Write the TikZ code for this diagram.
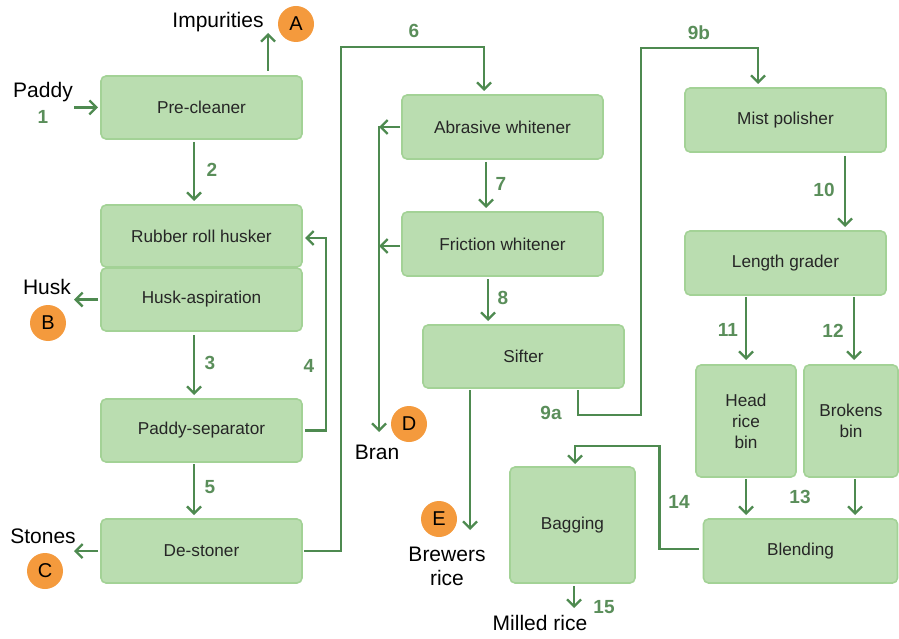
\documentclass[tikz,border=0pt]{standalone}
\usepackage{fontspec}
\setmainfont{Liberation Sans}
\usetikzlibrary{arrows.meta}
\definecolor{boxfill}{HTML}{BADDB0}
\definecolor{boxline}{HTML}{A3D296}
\definecolor{arrowc}{HTML}{4E8A50}
\definecolor{numc}{HTML}{5A8E5A}
\definecolor{orangec}{HTML}{F49A3D}
\begin{document}
\begin{tikzpicture}[x=1pt,y=-1pt,
 box/.style={draw=boxline, fill=boxfill, line width=1.6pt, rounded corners=5pt, inner sep=0pt, outer sep=0pt, font=\fontsize{17.2}{21}\selectfont, align=center, text=black!85},
 arr/.style={draw=arrowc, line width=2.5pt, -{Straight Barb[length=7pt,width=14pt,line width=2.3pt]}},
 ln/.style={draw=arrowc, line width=2.5pt},
 num/.style={text=numc, font=\fontsize{19}{22}\selectfont\bfseries, inner sep=0pt},
 lbl/.style={font=\fontsize{21}{24}\selectfont, text=black, inner sep=0pt, align=center},
 circ/.style={circle, fill=orangec, minimum size=36pt, inner sep=0pt, font=\fontsize{20}{24}\selectfont}]
\useasboundingbox (0,0) rectangle (899,639);
% boxes
\node[box, minimum width=201pt, minimum height=63pt] (pre) at (201.5,107.5) {Pre-cleaner};
\node[box, minimum width=201pt, minimum height=62pt] (rub) at (201.5,236) {Rubber roll husker};
\node[box, minimum width=201pt, minimum height=63pt] (husk) at (201.5,299.5) {Husk-aspiration};
\node[box, minimum width=201pt, minimum height=63pt] (psep) at (201.5,430.5) {Paddy-separator};
\node[box, minimum width=201pt, minimum height=64pt] (dest) at (201.5,551) {De-stoner};
\node[box, minimum width=201pt, minimum height=64pt] (abr) at (502.5,127) {Abrasive whitener};
\node[box, minimum width=201pt, minimum height=64pt] (fric) at (502.5,244) {Friction whitener};
\node[box, minimum width=201pt, minimum height=63pt] (sift) at (523.5,356.5) {Sifter};
\node[box, minimum width=125pt, minimum height=116pt] (bag) at (572.5,525) {Bagging};
\node[box, minimum width=201pt, minimum height=64pt] (mist) at (785.5,120) {Mist polisher};
\node[box, minimum width=201pt, minimum height=64pt] (len) at (785.5,263) {Length grader};
\node[box, minimum width=100pt, minimum height=112pt] (head) at (746,421) {Head\\rice\\bin};
\node[box, minimum width=94pt, minimum height=112pt] (brok) at (851,421) {Brokens\\bin};
\node[box, minimum width=194pt, minimum height=64pt] (blend) at (800.5,551) {Blending};
% labels
\node[lbl] (impl) at (218,22) {Impurities};
\node[circ] (cA) at (296,24) {A};
\node[lbl] (paddyl) at (43,92) {Paddy};
\node[lbl] (huskl) at (47,287) {Husk};
\node[circ] (cB) at (48,323) {B};
\node[lbl] (stonesl) at (43,536) {Stones};
\node[circ] (cC) at (45,571) {C};
\node[lbl] (branl) at (377,452) {Bran};
\node[circ] (cD) at (409,424) {D};
\node[circ] (cE) at (439,519) {E};
\node[lbl] (brewl) at (447,566) {Brewers\\rice};
\node[lbl] (milledl) at (540,623) {Milled rice};
% numbers
\node[num] (n1) at (43,117) {1};
\node[num] (n2) at (212,170) {2};
\node[num] (n3) at (210,363) {3};
\node[num] (n4) at (309,366) {4};
\node[num] (n5) at (210,487) {5};
\node[num] (n6) at (414,31) {6};
\node[num] (n7) at (501,184) {7};
\node[num] (n8) at (503,298) {8};
\node[num] (n9a) at (551,413) {9a};
\node[num] (n9b) at (699,33) {9b};
\node[num] (n10) at (824,190) {10};
\node[num] (n11) at (728,330) {11};
\node[num] (n12) at (833,331) {12};
\node[num] (n13) at (800,497) {13};
\node[num] (n14) at (679,502) {14};
\node[num] (n15) at (604,607) {15};
% free ends
\coordinate (paddyin) at (74,107.5);
\coordinate (impout) at (268,33);
\coordinate (huskout) at (74,299.5);
\coordinate (stoneout) at (74,551);
\coordinate (branend) at (379,432);
\coordinate (brewend) at (470,530);
\coordinate (milledend) at (574,608);
% connectors
\draw[arr] (paddyin) -- ([xshift=-3]pre.west);
\draw[arr] ([xshift=66.5,yshift=5]pre.north) -- (impout);
\draw[arr] ([xshift=-7.5,yshift=-3]pre.south) -- ([xshift=-7.5,yshift=4]rub.north);
\draw[arr] ([xshift=-3]husk.west) -- (huskout);
\draw[arr] ([xshift=-7.5,yshift=-4]husk.south) -- ([xshift=-7.5,yshift=4]psep.north);
\draw[arr] ([xshift=3]psep.east) -- ([xshift=24]psep.east) |- ([xshift=3,yshift=-2]rub.east);
\draw[arr] ([xshift=-7.5,yshift=-2]psep.south) -- ([xshift=-7.5,yshift=4]dest.north);
\draw[arr] ([xshift=-3]dest.west) -- (stoneout);
\draw[arr] ([xshift=2]dest.east) -- ([xshift=39]dest.east) |- ([xshift=-18.5,yshift=48]abr.north) -- ([xshift=-18.5,yshift=4]abr.north);
\draw[arr] ([xshift=-23,yshift=1.2]abr.west) -- (branend);
\draw[arr] ([xshift=-2]abr.west) -- ([xshift=-23]abr.west);
\draw[arr] ([xshift=-2,yshift=-2]fric.west) -- ([xshift=-23,yshift=-2]fric.west);
\draw[arr] ([xshift=-16.5,yshift=-3]abr.south) -- ([xshift=-16.5,yshift=4]fric.north);
\draw[arr] ([xshift=-14.5,yshift=-3]fric.south) -- ([xshift=-35.5,yshift=4]sift.north);
\draw[arr] ([xshift=-53.5,yshift=-2]sift.south) -- (brewend);
\draw[arr] ([xshift=54.5,yshift=-2]sift.south) -- ++(0,25) -- ++(63,0) |- ([xshift=-27.5,yshift=40]mist.north) -- ([xshift=-27.5,yshift=4]mist.north);
\draw[arr] ([xshift=59.5,yshift=-4]mist.south) -- ([xshift=59.5,yshift=4]len.north);
\draw[arr] ([xshift=-39.5,yshift=-2]len.south) -- ([xshift=0,yshift=5]head.north);
\draw[arr] ([xshift=68.5,yshift=-2]len.south) -- ([xshift=3,yshift=5]brok.north);
\draw[arr] ([yshift=-2]head.south) -- ([xshift=-54.5,yshift=4]blend.north);
\draw[arr] ([xshift=4,yshift=-2]brok.south) -- ([xshift=54.5,yshift=4]blend.north);
\draw[arr] ([xshift=-5,yshift=2]blend.west) -- ++(-39,0) |- ([xshift=2.5,yshift=21]bag.north) -- ([xshift=2.5,yshift=3]bag.north);
\draw[arr] ([xshift=1.5,yshift=-3]bag.south) -- (milledend);
\end{tikzpicture}
\end{document}
